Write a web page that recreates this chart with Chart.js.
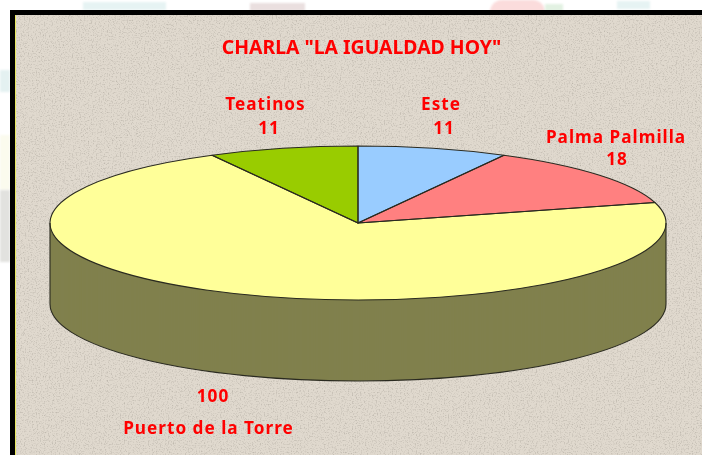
<!DOCTYPE html>
<html><head><meta charset="utf-8">
<style>
html,body{margin:0;padding:0;background:#fff;width:702px;height:455px;overflow:hidden}
.w{position:absolute;filter:blur(1px)}
#frame{position:absolute;left:10px;top:10px;width:692px;height:445px;box-sizing:border-box;border-left:5px solid #000;border-top:5px solid #000;background-color:#e0d9ce;
background-image:url("data:image/svg+xml;utf8,<svg xmlns='http://www.w3.org/2000/svg' width='692' height='445'><filter id='n'><feTurbulence type='fractalNoise' baseFrequency='0.75' numOctaves='2' seed='4'/><feColorMatrix values='0 0 0 0 0.40 0 0 0 0 0.37 0 0 0 0 0.32 0 0 0 1.6 -0.78'/></filter><rect width='692' height='445' filter='url(%23n)'/></svg>")}
#frame:before{content:"";position:absolute;left:0;top:0;bottom:0;width:1px;background:#e8e860}
canvas{position:absolute;left:0;top:0}
</style></head><body>
<div class="w" style="left:83px;top:2px;width:83px;height:8px;background:#e6f3f3"></div>
<div class="w" style="left:250px;top:3px;width:55px;height:8px;background:#eadfdf"></div>
<div class="w" style="left:490px;top:0;width:55px;height:12px;border-radius:28px 28px 0 0;background:#fbdcdc"></div>
<div class="w" style="left:545px;top:4px;width:18px;height:8px;background:#e2f1e2"></div>
<div class="w" style="left:617px;top:1px;width:33px;height:8px;background:#e6f3f3"></div>
<div class="w" style="left:0;top:70px;width:10px;height:22px;background:#e4f1f1"></div>
<div class="w" style="left:0;top:135px;width:10px;height:55px;background:#fbfbee"></div>
<div class="w" style="left:0;top:190px;width:10px;height:72px;background:#e2e2df"></div>
<div id="frame"></div>
<canvas id="c" width="702" height="455"></canvas>
<script src="https://cdn.jsdelivr.net/npm/chart.js@4"></script>
<script>
const titleText = 'CHARLA "LA IGUALDAD HOY"';
const categories = ['Este','Palma Palmilla','Puerto de la Torre','Teatinos'];
const values = [11,18,100,11];
const colors = ['#99CCFF','#FF8080','#FFFF99','#99CC00'];
const sideColor = '#80804D';
const edgeColor = '#2a2a20';
const squash = 0.25, depth = 81, rOuter = 308;

const pie3d = {
  id:'pie3d',
  beforeDatasetDraw(chart){
    const ctx = chart.ctx, els = chart.getDatasetMeta(0).data;
    const cx = els[0].x, cy = els[0].y;
    const enter = (dy)=>{ctx.translate(0,cy+dy);ctx.scale(1,squash);ctx.translate(0,-cy);};
    els.forEach(el=>{
      const saved = el.options;
      el.options = Object.assign(Object.create(saved),{backgroundColor:sideColor,borderWidth:0});
      for(let d=depth;d>0;d-=1){ctx.save();enter(d);el.draw(ctx);ctx.restore();}
      el.options = saved;
    });
    els.forEach(el=>{ctx.save();enter(0);el.draw(ctx);ctx.restore();});
    ctx.save();
    ctx.strokeStyle = edgeColor; ctx.lineWidth = 1.1; ctx.lineJoin='round';
    els.forEach(el=>{
      ctx.beginPath();ctx.save();enter(0);
      ctx.moveTo(cx,cy);ctx.arc(cx,cy,el.outerRadius,el.startAngle,el.endAngle);ctx.closePath();
      ctx.restore();ctx.stroke();
    });
    ctx.beginPath();ctx.save();enter(depth);
    ctx.arc(cx,cy,rOuter,0,Math.PI);ctx.restore();ctx.stroke();
    ctx.beginPath();ctx.moveTo(cx-rOuter,cy);ctx.lineTo(cx-rOuter,cy+depth);
    ctx.moveTo(cx+rOuter,cy);ctx.lineTo(cx+rOuter,cy+depth);ctx.stroke();
    ctx.restore();
    return false;
  },
  afterDraw(chart){
    const ctx = chart.ctx;
    ctx.save();ctx.fillStyle='#FF0000';ctx.textAlign='center';ctx.textBaseline='middle';
    ctx.font='bold 19.4px "Noto Sans"';
    ctx.fillText(titleText,361.5,48);
    ctx.font='bold 17.2px "Noto Sans"';ctx.letterSpacing='1px';
    const t=(s,x,y)=>ctx.fillText(s,x,y);
    t(categories[0],441,105);t(String(values[0]),444,129);
    t(categories[1],616,138);t(String(values[1]),617,160);
    t(String(values[2]),213,397);t(categories[2],208.5,429);
    t(categories[3],265.5,105);t(String(values[3]),269,129);
    ctx.restore();
  }
};
new Chart(document.getElementById('c'),{
  type:'pie',
  data:{labels:categories,datasets:[{data:values,backgroundColor:colors,borderWidth:0,radius:rOuter}]},
  options:{responsive:false,animation:false,
    layout:{padding:{left:14,bottom:9}},
    plugins:{legend:{display:false},tooltip:{enabled:false}}},
  plugins:[pie3d]
});
</script></body></html>
